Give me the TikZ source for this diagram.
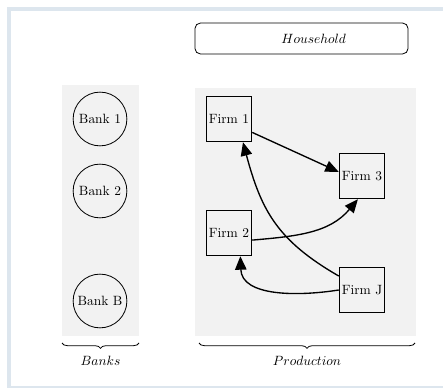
\documentclass[tikz,border=0pt]{standalone}
\usetikzlibrary{arrows.meta,decorations.pathreplacing}
\definecolor{framec}{RGB}{221,230,238}
\definecolor{panel}{RGB}{242,242,242}
\begin{document}
\begin{tikzpicture}[x=0.744pt,y=-0.744pt,
  bankc/.style={circle,draw,line width=0.6pt,minimum size=40pt,inner sep=0pt},
  firmbox/.style={rectangle,draw,line width=0.6pt,minimum size=34pt,inner sep=0pt,fill=panel},
  flow/.style={line width=1pt,-{Triangle[length=10pt,width=8.5pt]}},
  bracec/.style={decorate,decoration={brace,mirror,amplitude=4pt},line width=0.6pt}]
\useasboundingbox (0,0) rectangle (443,388);
\fill[white] (0,0) rectangle (443,388);
% frame
\fill[framec] (7,7) rectangle (443,11);
\fill[framec] (7,7) rectangle (11,388);
\fill[framec] (7,386) rectangle (443,388);
% panels
\fill[panel] (62,85) rectangle (139,336);
\fill[panel] (195,88) rectangle (416,336);
% household
\node[draw,rounded corners=4pt,line width=0.6pt,minimum width=158.5pt,minimum height=23pt,inner sep=0pt] (household) at (301.5,38.5) {\hspace*{18pt}$Household$};
% banks
\node[bankc] (bank1) at (100,119) {Bank 1};
\node[bankc] (bank2) at (100,191) {Bank 2};
\node[bankc] (bankB) at (100,301) {Bank B};
% firms
\node[firmbox] (firm1) at (229,119) {Firm 1};
\node[firmbox] (firm3) at (362,176) {Firm 3};
\node[firmbox] (firm2) at (229,233) {Firm 2};
\node[firmbox] (firmJ) at (362,290) {Firm J};
% connectors
\draw[flow] (firm1.-30) -- (firm3.170);
\draw[flow] (firm2.-17) to[out=5,in=-130] (firm3.-100);
\draw[flow] (firmJ.149) to[out=150,in=-75,looseness=1.1] (firm1.-59);
\draw[flow] (firmJ.west) to[out=189,in=-88] (firm2.-64);
% braces
\coordinate (bl) at (62,343);
\coordinate (br) at (139,343);
\coordinate (pl) at (199,343);
\coordinate (pr) at (415,343);
\draw[bracec] (bl) -- (br) node[midway,below=6pt] (banks) {$Banks$};
\draw[bracec] (pl) -- (pr) node[midway,below=6pt] (production) {$Production$};
\end{tikzpicture}
\end{document}
